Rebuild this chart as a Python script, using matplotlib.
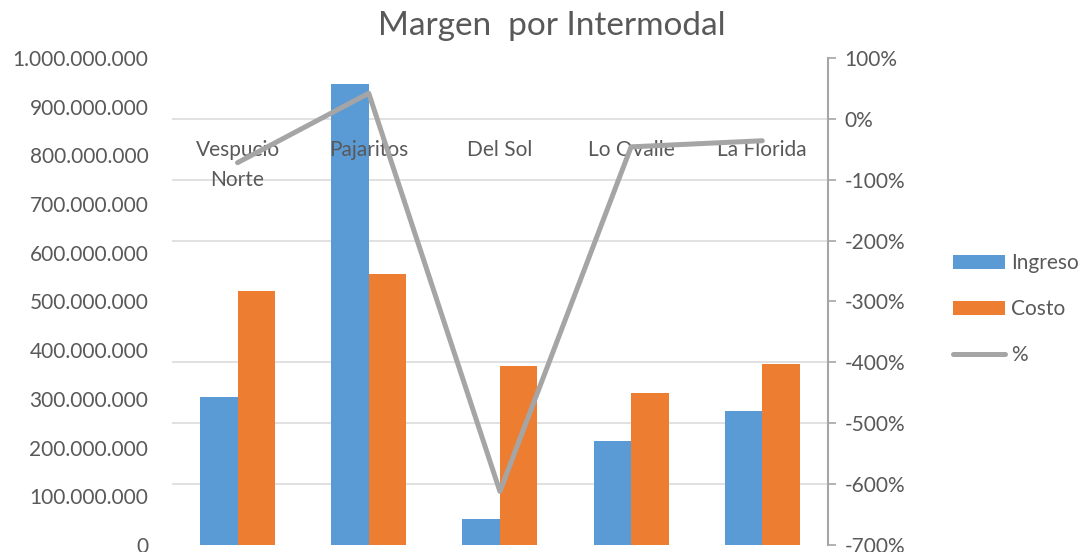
import numpy as np
import matplotlib
matplotlib.use("Agg")
import matplotlib.pyplot as plt
from matplotlib.ticker import MultipleLocator, FuncFormatter
from matplotlib.patches import Patch
from matplotlib.lines import Line2D
import matplotlib.transforms as mtransforms

plt.rcParams['font.family'] = ['Lato', 'DejaVu Sans']

# datos
categorias = ["Vespucio\nNorte", "Pajaritos", "Del Sol", "Lo Ovalle", "La Florida"]
ingreso = [304e6, 946e6, 53e6, 214e6, 275e6]
costo = [522e6, 556e6, 368e6, 313e6, 372e6]
margen = [-72, 42, -612, -46, -36]   # %

azul = "#5B9BD5"
naranja = "#ED7D31"
gris = "#A5A5A5"
texto = "#595959"

fig = plt.figure(figsize=(10.85, 5.52), dpi=100)
ax = fig.add_axes([0.1585, 0.0127, 0.763 - 0.1585, 0.895 - 0.0127])
ax2 = ax.twinx()

x = np.arange(len(categorias))
w = 0.286
ax.bar(x - w / 2, ingreso, w, color=azul, zorder=3)
ax.bar(x + w / 2, costo, w, color=naranja, zorder=3)
ax.set_xlim(-0.5, len(categorias) - 0.5)
ax.set_ylim(0, 1e9)

# lineas de grilla alineadas con el eje secundario
ax.yaxis.set_major_locator(MultipleLocator(100e6))
ax.yaxis.set_minor_locator(MultipleLocator(125e6))
ax.grid(which='minor', axis='y', color="#D9D9D9", linewidth=1.1, zorder=0)
ax.yaxis.set_major_formatter(FuncFormatter(lambda v, p: f"{v:,.0f}".replace(",", ".")))
ax.tick_params(axis='y', which='both', length=0, labelsize=15, labelcolor=texto, pad=17)
ax.set_xticks([])
for s in ax.spines.values():
    s.set_visible(False)

ax2.plot(x, margen, color=gris, linewidth=3.6, solid_capstyle='round',
         solid_joinstyle='round', zorder=4)
ax2.set_ylim(-700, 100)
ax2.yaxis.set_major_locator(MultipleLocator(100))
ax2.yaxis.set_major_formatter(FuncFormatter(lambda v, p: f"{v:.0f}%"))
ax2.tick_params(axis='y', direction='out', length=6, width=1.2, color="#A6A6A6",
                labelsize=15, labelcolor=texto, pad=6)
for k in ['left', 'top', 'bottom']:
    ax2.spines[k].set_visible(False)
ax2.spines['right'].set_color("#A6A6A6")
ax2.spines['right'].set_linewidth(1.5)

# etiquetas de categoria dentro del grafico
trans = mtransforms.blended_transform_factory(ax.transData, ax.transAxes)
for xi, c in zip(x, categorias):
    ax.text(xi, 0.832, c, transform=trans, ha='center', va='top', fontsize=15,
            color=texto, linespacing=1.65, zorder=5)

fig.text(0.509, 0.937, "Margen  por Intermodal", ha='center', va='baseline',
         fontsize=24, color=texto)

handles = [Patch(facecolor=azul), Patch(facecolor=naranja),
           Line2D([], [], color=gris, linewidth=3.6, solid_capstyle='round')]
fig.legend(handles, ["Ingreso", "Costo", "%"], loc='center left',
           bbox_to_anchor=(0.878, 0.44), frameon=False, fontsize=15,
           labelcolor=texto, handlelength=2.5, handleheight=0.67,
           handletextpad=0.3, labelspacing=1.25, borderpad=0, borderaxespad=0)

fig.savefig("out.png", dpi=100)
